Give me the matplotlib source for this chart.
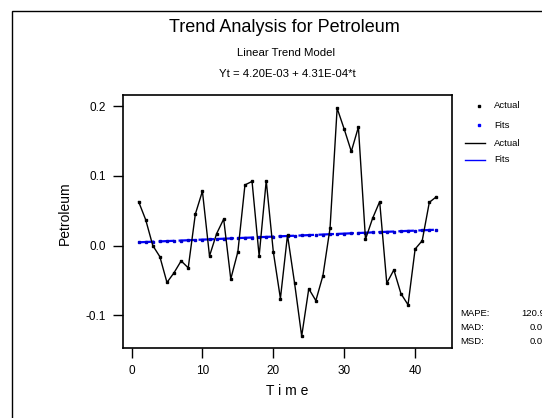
import matplotlib
matplotlib.use("Agg")
import matplotlib.pyplot as plt
from matplotlib.patches import Rectangle
from matplotlib.lines import Line2D

plt.rcParams["font.family"] = ["Liberation Sans", "DejaVu Sans"]

# Time index and observed values
t = list(range(1, 44))
actual = [0.063, 0.037, 0.000, -0.016, -0.053, -0.039, -0.022, -0.032, 0.045, 0.078,
          -0.015, 0.017, 0.038, -0.048, -0.009, 0.087, 0.092, -0.015, 0.093, -0.009,
          -0.076, 0.015, -0.054, -0.130, -0.062, -0.079, -0.043, 0.025, 0.197, 0.167,
          0.135, 0.170, 0.009, 0.039, 0.063, -0.054, -0.035, -0.069, -0.085, -0.005,
          0.007, 0.062, 0.070]
# Fitted trend values (Yt = 4.20E-03 + 4.31E-04*t)
fits = [0.0046, 0.0051, 0.0055, 0.0059, 0.0064, 0.0068, 0.0072, 0.0076, 0.0081, 0.0085,
        0.0089, 0.0094, 0.0098, 0.0102, 0.0107, 0.0111, 0.0115, 0.0120, 0.0124, 0.0128,
        0.0133, 0.0137, 0.0141, 0.0145, 0.0150, 0.0154, 0.0158, 0.0163, 0.0167, 0.0171,
        0.0176, 0.0180, 0.0184, 0.0189, 0.0193, 0.0197, 0.0201, 0.0206, 0.0210, 0.0214,
        0.0219, 0.0223, 0.0227]

xticks = [0, 10, 20, 30, 40]
yticks = [-0.1, 0.0, 0.1, 0.2]
ytick_labels = ["-0.1", "0.0", "0.1", "0.2"]
stat_names = ["MAPE:", "MAD:", "MSD:"]
stat_values = ["120.937", "0.058", "0.005"]

W, H = 542, 418
fig = plt.figure(figsize=(W / 100, H / 100), dpi=100)

# outer frame (runs off the right/bottom edge)
fig.patches.append(Rectangle((12 / W, -0.1), 1.2, 1 - 11 / H + 0.1, transform=fig.transFigure,
                             fill=False, edgecolor="black", linewidth=1.0))

ax = fig.add_axes([123 / W, 1 - 348 / H, (452 - 123) / W, (348 - 95) / H])

# fits line + points
ax.plot(t, fits, color="#0000ff", linewidth=1.6, linestyle=(0, (7, 2)), zorder=2)
ax.plot(t, fits, linestyle="none", marker="s", markersize=1.6, color="#0000cc", zorder=3)
# actual line + points
ax.plot(t, actual, color="black", linewidth=1.0, zorder=4)
ax.plot(t, actual, linestyle="none", marker="s", markersize=1.8, color="black", zorder=5)

ax.set_xlim(-1.2, 45.2)
ax.set_ylim(-0.147, 0.216)
ax.set_xticks(xticks)
ax.set_yticks(yticks)
ax.set_yticklabels(ytick_labels)
ax.tick_params(direction="out", length=7, width=1.0, labelsize=8.5, pad=5)
for s in ax.spines.values():
    s.set_linewidth(1.2)

fig.text(65 / W, 1 - 213 / H, "Petroleum", rotation=90, ha="center", va="center", fontsize=10)
ax.set_xlabel("T i m e", fontsize=10, labelpad=5)

# titles
fig.text(284 / W, 1 - 27 / H, "Trend Analysis for Petroleum", ha="center", va="center", fontsize=13)
fig.text(286 / W, 1 - 53 / H, "Linear Trend Model", ha="center", va="center", fontsize=8.2)
fig.text(287 / W, 1 - 74 / H, "Yt = 4.20E-03 + 4.31E-04*t", ha="center", va="center", fontsize=8.2)

# legend (manual)
leg_rows = [
    ("Actual", "black", "dot", 106),
    ("Fits", "#0000ff", "dot", 125),
    ("Actual", "black", "line", 143),
    ("Fits", "#0000ff", "line", 160),
]
for label, col, kind, yy in leg_rows:
    yf = 1 - yy / H
    if kind == "dot":
        fig.add_artist(Line2D([479 / W], [yf], marker="s", markersize=1.8, color=col,
                              linestyle="none", transform=fig.transFigure))
    else:
        fig.add_artist(Line2D([465 / W, 485 / W], [yf, yf], color=col, linewidth=1.0,
                              transform=fig.transFigure))
    fig.text(494 / W, yf, label, ha="left", va="center", fontsize=6.8)

# accuracy measures
for name, val, yy, vx in zip(stat_names, stat_values, [314, 327, 341], [521, 530, 530]):
    fig.text(460 / W, 1 - yy / H, name, ha="left", va="center", fontsize=6.8)
    fig.text(vx / W, 1 - yy / H, val, ha="left", va="center", fontsize=6.8)

fig.savefig("out.png", dpi=100)
